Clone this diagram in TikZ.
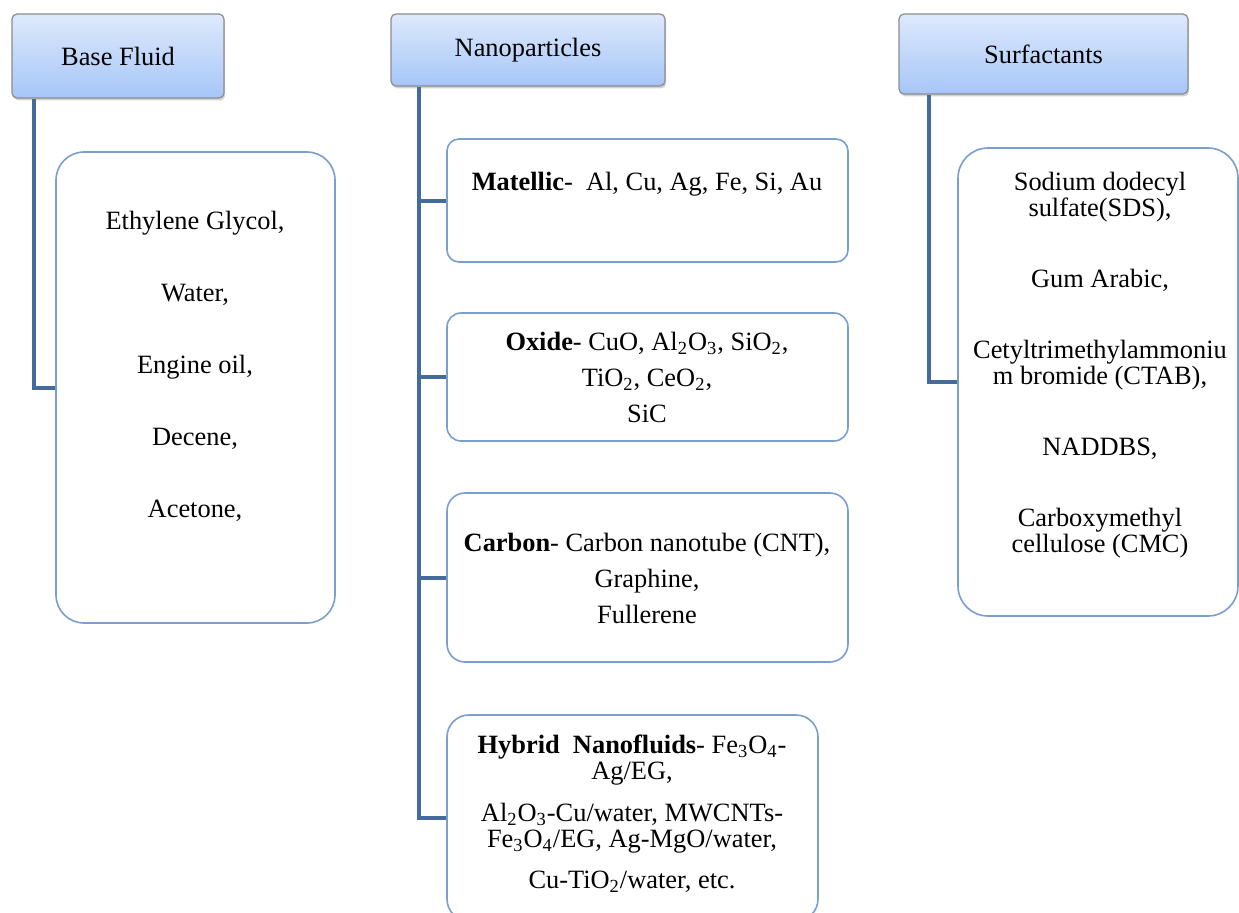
\documentclass[tikz,border=0pt]{standalone}
\usepackage{fontspec}
\setmainfont{Liberation Serif}
\usetikzlibrary{fit,shadows,calc}
\definecolor{linkblue}{RGB}{68,106,158}
\definecolor{boxblue}{RGB}{122,158,208}
\definecolor{headtop}{RGB}{222,233,252}
\definecolor{headbot}{RGB}{166,198,248}
\setlength{\lineskiplimit}{-20pt}
\tikzset{
  head/.style={draw=gray!90, line width=0.6pt, rounded corners=2.5pt, top color=headtop, bottom color=headbot,
    inner sep=0pt, drop shadow={shadow xshift=0.6pt, shadow yshift=-1.2pt, opacity=0.35}},
  leaf/.style={draw=boxblue, line width=0.8pt, fill=white, inner sep=0pt},
  link/.style={draw=linkblue, line width=2pt},
  txt/.style={align=center, inner sep=0pt, font=\fontsize{13.2}{#1}\selectfont},
  txt/.default=15
}
\begin{document}
\begin{tikzpicture}[x=0.5pt,y=-0.5pt]
\clip (0,0) rectangle (1239,912);
\node[leaf, rounded corners=14pt, fit={(56,152) (335,623)}] (bfbox) {};
\node[leaf, rounded corners=6pt, fit={(447,139) (848,262)}] (metal) {};
\node[leaf, rounded corners=7pt, fit={(447,313) (848,441)}] (oxide) {};
\node[leaf, rounded corners=9pt, fit={(447,493) (848,662)}] (carbon) {};
\node[leaf, rounded corners=11pt, fit={(447,715) (818,921)}] (hybrid) {};
\node[leaf, rounded corners=15pt, fit={(958,148) (1238,616)}] (sfbox) {};
\node[head, fit={(12,14) (224,98)}] (bfhead) {};
\node[head, fit={(391,14) (665,86)}] (nphead) {};
\node[head, fit={(899,14) (1188,94)}] (sfhead) {};
\node[txt] (bflabel) at (bfhead.center) {Base Fluid};
\node[txt] (nplabel) at (nphead.center) {Nanoparticles};
\node[txt] (sflabel) at (sfhead.center) {Surfactants};
\coordinate (bftrunk) at ($(bfhead.south west)+(23,0)$);
\coordinate (nptrunk) at ($(nphead.south west)+(29,0)$);
\coordinate (sftrunk) at ($(sfhead.south west)+(31,0)$);
\draw[link] (bftrunk) |- (bfbox.west);
\draw[link] (nptrunk) |- (hybrid.west);
\foreach \leafname in {metal,oxide,carbon}
  \draw[link] (nptrunk |- \leafname.west) -- (\leafname.west);
\draw[link] (sftrunk) |- (sfbox.west);
\node[txt=36] (bftext) at (195,366) {Ethylene Glycol,\\Water,\\Engine oil,\\Decene,\\Acetone,};
\node[txt] (metaltext) at (647,184) {\textbf{Matellic}-\ \ Al, Cu, Ag, Fe, Si, Au};
\node[txt=18] (oxidetext) at (647,377) {\textbf{Oxide}- CuO, Al\textsubscript{2}O\textsubscript{3}, SiO\textsubscript{2},\\
  TiO\textsubscript{2}, CeO\textsubscript{2},\\SiC};
\node[txt=18] (carbontext) at (647,578) {\textbf{Carbon}- Carbon nanotube (CNT),\\Graphine,\\Fullerene};
\node[txt=12.8] (hybridtext) at (632,814) {\textbf{Hybrid\ \ Nanofluids}- Fe\textsubscript{3}O\textsubscript{4}-\\Ag/EG,\\[8.5pt]
  Al\textsubscript{2}O\textsubscript{3}-Cu/water, MWCNTs-\\Fe\textsubscript{3}O\textsubscript{4}/EG, Ag-MgO/water,\\[8pt]
  Cu-TiO\textsubscript{2}/water, etc.};
\node[txt=13] (sftext) at (1100,365) {Sodium dodecyl\\sulfate(SDS),\\[22.5pt]Gum Arabic,\\[22.5pt]
  Cetyltrimethylammoniu\\m bromide (CTAB),\\[22.5pt]NADDBS,\\[22.5pt]Carboxymethyl\\cellulose (CMC)};
\end{tikzpicture}
\end{document}
